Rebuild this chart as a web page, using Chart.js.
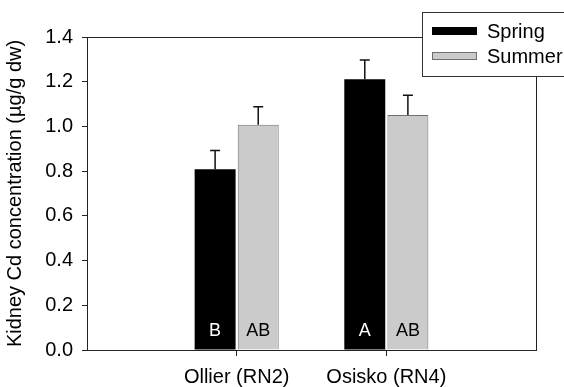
<!DOCTYPE html>
<html>
<head>
<meta charset="utf-8">
<script src="https://cdn.jsdelivr.net/npm/chart.js@4.4.1/dist/chart.umd.min.js"></script>
<style>
  html, body { margin: 0; padding: 0; background: #fff; }
  #wrap { width: 564px; height: 387px; }
</style>
</head>
<body>
<div id="wrap"><canvas id="cdChart" width="564" height="387"></canvas></div>
<script>
// sites (empty slots at both ends keep the bars where the original axis had them)
const categories = ["", "Ollier (RN2)", "Osisko (RN4)", ""];
const springValues = [null, 0.808, 1.211, null];
const springErrors = [null, 0.084, 0.086, null];
const summerValues = [null, 1.007, 1.051, null];
const summerErrors = [null, 0.081, 0.089, null];
const springLetters = ["", "B", "A", ""];
const summerLetters = ["", "AB", "AB", ""];
const yTicks = [0, 0.2, 0.4, 0.6, 0.8, 1.0, 1.2, 1.4];

const FONT = "'Liberation Sans', Arial, sans-serif";
const errors = [springErrors, summerErrors];
const letters = [springLetters, summerLetters];
const letterColors = ["#fff", "#000"];

// error bars + letters inside the bars
const extrasPlugin = {
  id: "extras",
  afterDatasetsDraw(chart) {
    const ctx = chart.ctx;
    const y = chart.scales.y;
    ctx.save();
    chart.data.datasets.forEach((ds, di) => {
      const meta = chart.getDatasetMeta(di);
      meta.data.forEach((bar, i) => {
        if (ds.data[i] == null) return;
        const top = y.getPixelForValue(ds.data[i] + errors[di][i]);
        ctx.strokeStyle = "#111";
        ctx.lineWidth = 1.5;
        ctx.beginPath();
        ctx.moveTo(bar.x, bar.y);
        ctx.lineTo(bar.x, top);
        ctx.moveTo(bar.x - 5, top);
        ctx.lineTo(bar.x + 5, top);
        ctx.stroke();

        ctx.fillStyle = letterColors[di];
        ctx.font = "18px " + FONT;
        ctx.textAlign = "center";
        ctx.textBaseline = "middle";
        ctx.fillText(letters[di][i], bar.x, y.getPixelForValue(0) - 19);
      });
    });
    ctx.restore();
  }
};

// top/right frame lines and the boxed legend
const framePlugin = {
  id: "frame",
  afterDraw(chart) {
    const ctx = chart.ctx;
    const a = chart.chartArea;
    ctx.save();
    ctx.strokeStyle = "#222";
    ctx.lineWidth = 1;
    ctx.beginPath();
    ctx.moveTo(a.left, a.top + 0.5);
    ctx.lineTo(a.right + 0.5, a.top + 0.5);
    ctx.lineTo(a.right + 0.5, a.bottom);
    ctx.stroke();

    // legend box
    ctx.fillStyle = "#fff";
    ctx.fillRect(422, 12, 160, 64);
    ctx.strokeStyle = "#333";
    ctx.strokeRect(422.5, 12.5, 160, 64);

    const items = chart.data.datasets;
    const rows = [31, 56];
    items.forEach((ds, i) => {
      ctx.fillStyle = ds.backgroundColor;
      ctx.fillRect(432, rows[i] - 4, 45, 8);
      ctx.strokeStyle = ds.borderWidth ? ds.borderColor : "#000";
      ctx.strokeRect(432.5, rows[i] - 3.5, 44, 7);
      ctx.fillStyle = "#000";
      ctx.font = "20px " + FONT;
      ctx.textAlign = "left";
      ctx.textBaseline = "middle";
      ctx.fillText(ds.label, 487, rows[i] + 1);
    });
    ctx.restore();
  }
};

new Chart(document.getElementById("cdChart"), {
  type: "bar",
  data: {
    labels: categories,
    datasets: [
      {
        label: "Spring",
        data: springValues,
        backgroundColor: "#000",
        borderWidth: 0,
        categoryPercentage: 0.576,
        barPercentage: 0.95
      },
      {
        label: "Summer",
        data: summerValues,
        backgroundColor: "#cbcbcb",
        borderColor: "#6f6f6f",
        borderWidth: 1,
        categoryPercentage: 0.576,
        barPercentage: 0.95
      }
    ]
  },
  options: {
    responsive: false,
    animation: false,
    events: [],
    layout: { padding: { top: 37, right: 28, left: 0, bottom: 0 } },
    plugins: {
      legend: { display: false },
      tooltip: { enabled: false }
    },
    scales: {
      x: {
        offset: false,
        grid: {
          offset: false,
          drawOnChartArea: false,
          tickLength: 6,
          color: c => (c.index === 1 || c.index === 2) ? "#222" : "rgba(0,0,0,0)"
        },
        border: { color: "#222", width: 1 },
        ticks: { color: "#000", font: { family: FONT, size: 20 }, padding: 9, maxRotation: 0, autoSkip: false },
        afterFit: s => { s.height = 37; }
      },
      y: {
        min: 0,
        max: 1.4,
        afterBuildTicks: s => { s.ticks = yTicks.map(v => ({ value: v })); },
        grid: { drawOnChartArea: false, tickLength: 5, color: "#222" },
        border: { color: "#222", width: 1 },
        ticks: {
          color: "#000",
          font: { family: FONT, size: 20 },
          padding: 9,
          callback: v => v.toFixed(1)
        },
        title: {
          display: true,
          text: "Kidney Cd concentration (µg/g dw)",
          color: "#000",
          font: { family: FONT, size: 20 },
          padding: { top: 3, bottom: 0 }
        },
        afterFit: s => { s.width = 87; }
      }
    }
  },
  plugins: [extrasPlugin, framePlugin]
});
</script>
</body>
</html>
